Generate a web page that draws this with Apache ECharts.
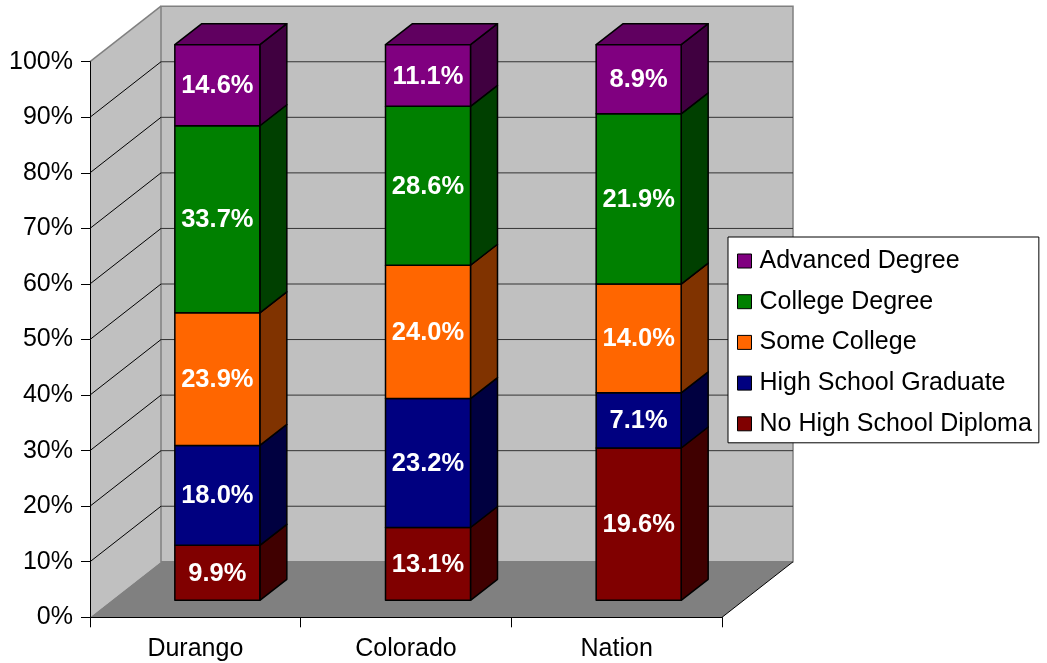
<!DOCTYPE html>
<html>
<head>
<meta charset="UTF-8">
<title>Educational Attainment</title>
<script src="https://cdn.jsdelivr.net/npm/echarts@6/dist/echarts.min.js"></script>
<style>
html, body { margin: 0; padding: 0; background: #fff; }
#chart { width: 1047px; height: 663px; }
</style>
</head>
<body>
<div id="chart"></div>
<script type="text/javascript">
// data (percent of adults 25+)
var categories = ['Durango', 'Colorado', 'Nation'];
var levelNames = ['No High School Diploma', 'High School Graduate', 'Some College', 'College Degree', 'Advanced Degree'];
var noDiploma   = [9.9, 13.1, 19.6];
var hsGraduate  = [18.0, 23.2, 7.1];
var someCollege = [23.9, 24.0, 14.0];
var collegeDeg  = [33.7, 28.6, 21.9];
var advancedDeg = [14.6, 11.1, 8.9];
var yTicks = [0, 10, 20, 30, 40, 50, 60, 70, 80, 90, 100];

// colours: front face, side face
var frontColors = ['#800000', '#000080', '#FF6600', '#008000', '#800080'];
var sideColors  = ['#400000', '#000040', '#803300', '#004000', '#400040'];
var topColor = '#600060';

var FONT = '"Liberation Sans", Arial, sans-serif';
var WALL_DX = 71, WALL_DY = 55.5;   // depth of the 3d box
var BAR_DX0 = 22, BAR_DY0 = 17;     // bar front inside the box
var BAR_DX = 27, BAR_DY = 21;       // bar depth
var BAR_W = 85;

var levels = [noDiploma, hsGraduate, someCollege, collegeDeg, advancedDeg];

// 100% stacked: normalize each column
var totals = categories.map(function (c, i) {
	var s = 0;
	levels.forEach(function (arr) { s += arr[i]; });
	return s;
});

function barData(k) {
	return categories.map(function (c, i) {
		var start = 0;
		for (var j = 0; j < k; j++) start += levels[j][i];
		var end = start + levels[k][i];
		return [i, start / totals[i] * 100, end / totals[i] * 100, levels[k][i]];
	});
}

function renderWalls(params, api) {
	var cs = params.coordSys;
	var x0 = cs.x, y0 = cs.y, w = cs.width, h = cs.height;
	var yb = y0 + h;
	var children = [];
	// left wall
	children.push({
		type: 'polygon',
		shape: { points: [[x0, yb], [x0, y0], [x0 + WALL_DX, y0 - WALL_DY], [x0 + WALL_DX, yb - WALL_DY]] },
		style: { fill: '#c0c0c0', stroke: null }
	});
	children.push({
		type: 'line',
		shape: { x1: x0, y1: y0, x2: x0 + WALL_DX, y2: y0 - WALL_DY },
		style: { stroke: '#808080', lineWidth: 1.5 }
	});
	// back wall
	children.push({
		type: 'rect',
		shape: { x: x0 + WALL_DX, y: y0 - WALL_DY, width: w, height: h },
		style: { fill: '#c0c0c0', stroke: '#808080', lineWidth: 1.5 }
	});
	// floor
	children.push({
		type: 'polygon',
		shape: { points: [[x0, yb], [x0 + w, yb], [x0 + w + WALL_DX, yb - WALL_DY], [x0 + WALL_DX, yb - WALL_DY]] },
		style: { fill: '#808080', stroke: null }
	});
	children.push({
		type: 'line',
		shape: { x1: x0 + w, y1: yb, x2: x0 + w + WALL_DX, y2: yb - WALL_DY },
		style: { stroke: '#000', lineWidth: 1 }
	});
	// grid lines
	yTicks.forEach(function (v) {
		if (v === 0 || v === 100) return;
		var y = api.coord([0, v])[1];
		children.push({
			type: 'line',
			shape: { x1: x0, y1: y, x2: x0 + WALL_DX, y2: y - WALL_DY },
			style: { stroke: '#000', lineWidth: 1 }
		});
		children.push({
			type: 'line',
			shape: { x1: x0 + WALL_DX, y1: y - WALL_DY, x2: x0 + WALL_DX + w, y2: y - WALL_DY },
			style: { stroke: '#333', lineWidth: 1 }
		});
	});
	return { type: 'group', children: children };
}

function makeRenderBar(k) {
	var isTop = (k === levels.length - 1);
	return function (params, api) {
		var c = api.value(0);
		var base = api.coord([c, api.value(1)]);
		var top = api.coord([c, api.value(2)]);
		var cx = base[0] + BAR_DX0;
		var yb = base[1] - BAR_DY0;
		var yt = top[1] - BAR_DY0;
		var L = cx - BAR_W / 2, R = cx + BAR_W / 2;
		var edge = { stroke: '#000', lineWidth: 1.5, lineJoin: 'round' };
		var children = [];
		children.push({
			type: 'polygon',
			shape: { points: [[R, yb], [R + BAR_DX, yb - BAR_DY], [R + BAR_DX, yt - BAR_DY], [R, yt]] },
			style: Object.assign({ fill: sideColors[k] }, edge)
		});
		if (isTop) {
			children.push({
				type: 'polygon',
				shape: { points: [[L, yt], [R, yt], [R + BAR_DX, yt - BAR_DY], [L + BAR_DX, yt - BAR_DY]] },
				style: Object.assign({ fill: topColor }, edge)
			});
		}
		children.push({
			type: 'rect',
			shape: { x: L, y: yt, width: BAR_W, height: yb - yt },
			style: Object.assign({ fill: frontColors[k] }, edge)
		});
		children.push({
			type: 'text',
			style: {
				text: api.value(3).toFixed(1) + '%',
				x: cx, y: (yt + yb) / 2 + 1,
				fill: '#fff',
				fontFamily: FONT, fontSize: 25.5, fontWeight: 'bold',
				align: 'center', verticalAlign: 'middle'
			}
		});
		return { type: 'group', children: children };
	};
}

var series = [{
	type: 'custom',
	name: 'walls',
	silent: true,
	z: 1,
	renderItem: renderWalls,
	encode: { x: 0, y: 1 },
	data: [[0, 0]]
}];
levels.forEach(function (arr, k) {
	series.push({
		type: 'custom',
		name: levelNames[k],
		z: 3,
		renderItem: makeRenderBar(k),
		itemStyle: { color: frontColors[k], borderColor: '#000', borderWidth: 1 },
		encode: { x: 0, y: [1, 2] },
		data: barData(k)
	});
});

var option = {
	animation: false,
	backgroundColor: '#fff',
	textStyle: { fontFamily: FONT },
	grid: { left: 90, right: 325, top: 61.7, bottom: 45.7 },
	legend: {
		orient: 'vertical',
		left: 728, top: 237,
		data: levelNames.slice().reverse(),
		backgroundColor: '#fff',
		borderColor: '#000', borderWidth: 1,
		padding: [10, 7, 5, 9],
		itemGap: 12.7,
		itemWidth: 14, itemHeight: 14,
		icon: 'rect',
		itemStyle: { borderColor: '#000', borderWidth: 1 },
		textStyle: { fontFamily: FONT, fontSize: 25, color: '#000', lineHeight: 28, padding: [0, 0, 0, 3] }
	},
	xAxis: {
		type: 'category',
		data: categories,
		z: 10,
		axisLine: { lineStyle: { color: '#000', width: 1 } },
		axisTick: { show: true, length: 10, lineStyle: { color: '#000' } },
		axisLabel: { color: '#000', fontSize: 25, fontFamily: FONT, margin: 19 },
		splitLine: { show: false }
	},
	yAxis: {
		type: 'value',
		min: 0, max: 100, interval: 10,
		z: 10,
		axisLine: { show: true, lineStyle: { color: '#000', width: 1 } },
		axisTick: { show: true, length: 9, lineStyle: { color: '#000' } },
		axisLabel: { color: '#000', fontSize: 25, fontFamily: FONT, margin: 17, formatter: '{value}%' },
		splitLine: { show: false }
	},
	series: series
};

var myChart = echarts.init(document.getElementById('chart'));
myChart.setOption(option);
</script>
</body>
</html>
